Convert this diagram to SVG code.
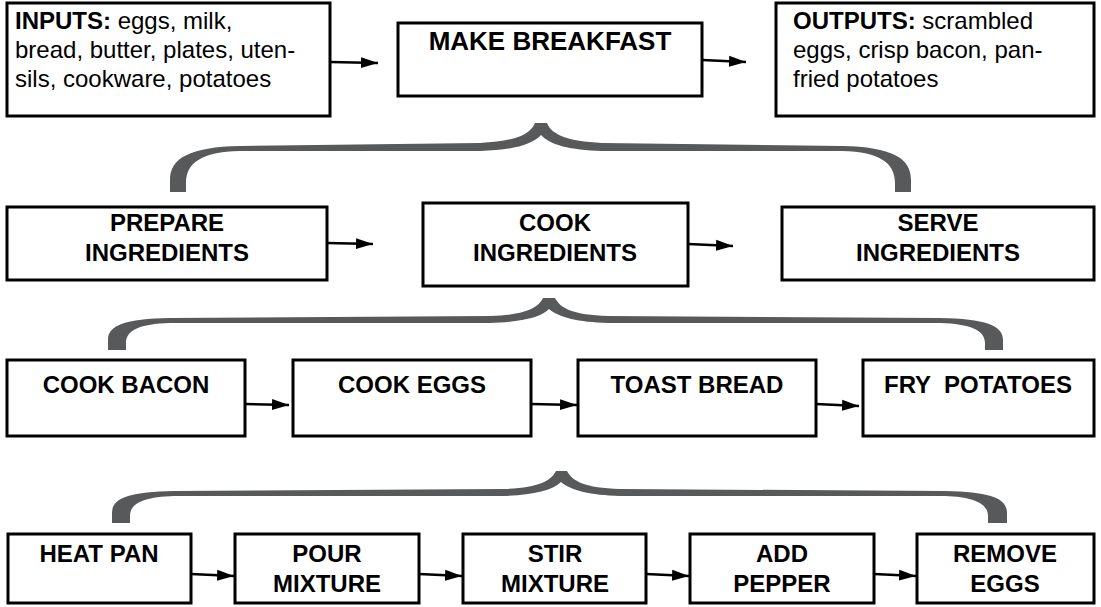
<svg xmlns="http://www.w3.org/2000/svg" width="1101" height="607" viewBox="0 0 1101 607">
<style>
.box{fill:#fff;stroke:#000;stroke-width:3}
.t{font-family:"Liberation Sans",Arial,Helvetica,sans-serif;font-size:24px;fill:#000}
.b{font-weight:bold}
.c{text-anchor:middle}
.arr{stroke:#000;stroke-width:2.5;fill:none;marker-end:url(#ah)}
.brace{fill:#58595b;stroke:none}
</style>
<defs>
<marker id="ah" markerUnits="userSpaceOnUse" markerWidth="18" markerHeight="14" refX="17" refY="7" orient="auto">
<path d="M0,1.5 L17,7 L0,12.5 Z" fill="#000"/>
</marker>
</defs>

<g id="braces">
<path class="brace" d="M170,192 L170,180 C170,158 190,147 240,146 L480,143 C515,141 530,135 535,123 L547,123 C552,135 567,141 602,143 L842,146 C892,147 911,158 911,180 L911,192 L895,192 L895,183 C895,163 880,152 842,151 L602,151 C570,150 550,145 541,135 C532,145 512,150 480,151 L240,151 C201,152 186,163 186,183 L186,192 Z"/>
<path class="brace" d="M108,350 L108,340 C108,325 125,319 170,318 L490,316 C525,315 538,308 543,298 L555,298 C560,308 573,315 608,316 L940,318 C985,319 1003,325 1003,340 L1003,350 L985,350 L985,343 C985,330 970,324 940,323 L608,323 C578,322 560,318 549,309 C540,318 520,322 490,323 L170,323 C140,324 126,330 126,343 L126,350 Z"/>
<path class="brace" d="M112,523 L112,513 C112,498 129,492 174,491 L503,489 C538,488 551,481 556,471 L567,471 C572,481 585,488 620,489 L945,491 C990,492 1007,498 1007,513 L1007,523 L988,523 L988,516 C988,503 973,497 945,496 L620,496 C590,495 572,491 561,482 C552,491 532,495 503,496 L174,496 C144,497 130,503 130,516 L130,523 Z"/>
</g>

<g id="connectors">
<line class="arr" x1="330" y1="62" x2="378" y2="63"/>
<line class="arr" x1="702" y1="60" x2="746" y2="62"/>
<line class="arr" x1="327" y1="243" x2="373" y2="244"/>
<line class="arr" x1="688" y1="244" x2="733" y2="246"/>
<line class="arr" x1="245" y1="404" x2="289" y2="405"/>
<line class="arr" x1="531" y1="404" x2="577" y2="405"/>
<line class="arr" x1="816" y1="404" x2="859" y2="406"/>
<line class="arr" x1="191" y1="574" x2="234" y2="576"/>
<line class="arr" x1="419" y1="574" x2="462" y2="576"/>
<line class="arr" x1="646" y1="574" x2="689" y2="576"/>
<line class="arr" x1="874" y1="574" x2="916" y2="576"/>
</g>

<g id="inputs">
<rect class="box" x="7" y="3" width="323" height="113"/>
<text class="t" x="15" y="29"><tspan class="b">INPUTS:</tspan> eggs, milk,</text>
<text class="t" x="15" y="58">bread, butter, plates, uten-</text>
<text class="t" x="15" y="87">sils, cookware, potatoes</text>
</g>
<g id="make-breakfast">
<rect class="box" x="398" y="23" width="304" height="73"/>
<text class="t b c" x="550" y="50" style="font-size:26px">MAKE BREAKFAST</text>
</g>
<g id="outputs">
<rect class="box" x="776" y="3" width="318" height="113"/>
<text class="t" x="793" y="29"><tspan class="b">OUTPUTS:</tspan> scrambled</text>
<text class="t" x="793" y="58">eggs, crisp bacon, pan-</text>
<text class="t" x="793" y="87">fried potatoes</text>
</g>

<g id="prepare">
<rect class="box" x="7" y="207" width="320" height="73"/>
<text class="t b c" x="167" y="231">PREPARE</text>
<text class="t b c" x="167" y="261">INGREDIENTS</text>
</g>
<g id="cook">
<rect class="box" x="423" y="203" width="265" height="83"/>
<text class="t b c" x="555" y="231">COOK</text>
<text class="t b c" x="555" y="261">INGREDIENTS</text>
</g>
<g id="serve">
<rect class="box" x="782" y="207" width="312" height="73"/>
<text class="t b c" x="938" y="231">SERVE</text>
<text class="t b c" x="938" y="261">INGREDIENTS</text>
</g>

<g id="cook-bacon">
<rect class="box" x="7" y="360" width="238" height="76"/>
<text class="t b c" x="126" y="393">COOK BACON</text>
</g>
<g id="cook-eggs">
<rect class="box" x="293" y="360" width="238" height="76"/>
<text class="t b c" x="412" y="393">COOK EGGS</text>
</g>
<g id="toast-bread">
<rect class="box" x="578" y="360" width="238" height="76"/>
<text class="t b c" x="697" y="393">TOAST BREAD</text>
</g>
<g id="fry-potatoes">
<rect class="box" x="863" y="360" width="231" height="76"/>
<text class="t b c" x="978" y="393" xml:space="preserve">FRY  POTATOES</text>
</g>

<g id="heat-pan">
<rect class="box" x="8" y="534" width="183" height="69"/>
<text class="t b c" x="99" y="562">HEAT PAN</text>
</g>
<g id="pour-mixture">
<rect class="box" x="235" y="534" width="184" height="69"/>
<text class="t b c" x="327" y="562">POUR</text>
<text class="t b c" x="327" y="592">MIXTURE</text>
</g>
<g id="stir-mixture">
<rect class="box" x="463" y="534" width="183" height="69"/>
<text class="t b c" x="555" y="562">STIR</text>
<text class="t b c" x="555" y="592">MIXTURE</text>
</g>
<g id="add-pepper">
<rect class="box" x="690" y="534" width="184" height="69"/>
<text class="t b c" x="782" y="562">ADD</text>
<text class="t b c" x="782" y="592">PEPPER</text>
</g>
<g id="remove-eggs">
<rect class="box" x="917" y="534" width="177" height="69"/>
<text class="t b c" x="1005" y="562">REMOVE</text>
<text class="t b c" x="1005" y="592">EGGS</text>
</g>
</svg>
